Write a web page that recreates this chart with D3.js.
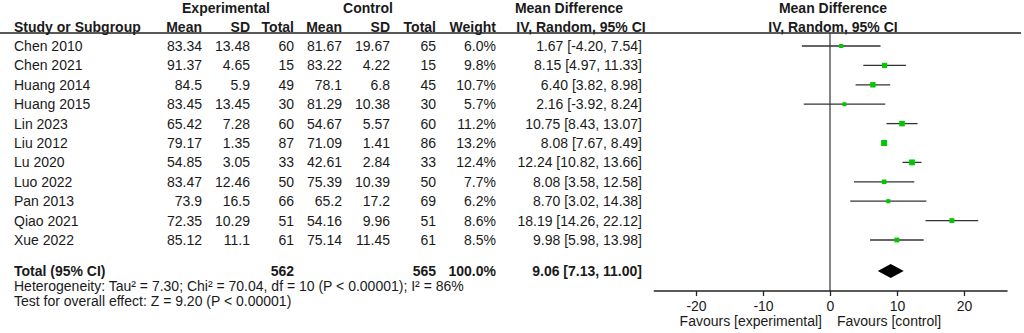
<!DOCTYPE html>
<html>
<head>
<meta charset="utf-8">
<script src="https://cdn.jsdelivr.net/npm/d3@7"></script>
<style>
  body { margin: 0; background: #fff; }
  svg text { font-family: "Liberation Sans", Arial, sans-serif; font-size: 14px; fill: #1a1a1a; }
  .bold { font-weight: bold; }
</style>
</head>
<body>
<div id="chart"></div>
<script>
// Data
const studies = ["Chen 2010", "Chen 2021", "Huang 2014", "Huang 2015", "Lin 2023", "Liu 2012",
  "Lu 2020", "Luo 2022", "Pan 2013", "Qiao 2021", "Xue 2022"];
const expMean = [83.34, 91.37, 84.5, 83.45, 65.42, 79.17, 54.85, 83.47, 73.9, 72.35, 85.12];
const expSD = [13.48, 4.65, 5.9, 13.45, 7.28, 1.35, 3.05, 12.46, 16.5, 10.29, 11.1];
const expTotal = [60, 15, 49, 30, 60, 87, 33, 50, 66, 51, 61];
const ctlMean = [81.67, 83.22, 78.1, 81.29, 54.67, 71.09, 42.61, 75.39, 65.2, 54.16, 75.14];
const ctlSD = [19.67, 4.22, 6.8, 10.38, 5.57, 1.41, 2.84, 10.39, 17.2, 9.96, 11.45];
const ctlTotal = [65, 15, 45, 30, 60, 86, 33, 50, 69, 51, 61];
const weights = [6.0, 9.8, 10.7, 5.7, 11.2, 13.2, 12.4, 7.7, 6.2, 8.6, 8.5];
const md = [1.67, 8.15, 6.40, 2.16, 10.75, 8.08, 12.24, 8.08, 8.70, 18.19, 9.98];
const ciLow = [-4.20, 4.97, 3.82, -3.92, 8.43, 7.67, 10.82, 3.58, 3.02, 14.26, 5.98];
const ciHigh = [7.54, 11.33, 8.98, 8.24, 13.07, 8.49, 13.66, 12.58, 14.38, 22.12, 13.98];
const total = { exp: 562, ctl: 565, weight: 100.0, md: 9.06, lo: 7.13, hi: 11.00 };
const axisTicks = [-20, -10, 0, 10, 20];
const footnotes = [
  "Heterogeneity: Tau\u00B2 = 7.30; Chi\u00B2 = 70.04, df = 10 (P < 0.00001); I\u00B2 = 86%",
  "Test for overall effect: Z = 9.20 (P < 0.00001)"
];

const width = 1024, height = 333;

const svg = d3.select("#chart")
  .append("svg")
  .attr("width", width)
  .attr("height", height);

// scales
const x = d3.scaleLinear().domain([-20, 20]).range([696, 964]);
const y = d3.scaleLinear().domain([0, studies.length - 1]).range([46, 240]);
const markerSize = d3.scaleSqrt().domain([0, d3.max(weights)]).range([0, 6]);

const totalY = 271;
const axisY = 291;

// column right edges for the table
const cols = [
  { x: 202, head: "Mean", get: i => expMean[i] },
  { x: 250, head: "SD", get: i => expSD[i] },
  { x: 294, head: "Total", get: i => expTotal[i] },
  { x: 342, head: "Mean", get: i => ctlMean[i] },
  { x: 390, head: "SD", get: i => ctlSD[i] },
  { x: 436, head: "Total", get: i => ctlTotal[i] },
  { x: 496, head: "Weight", get: i => weights[i].toFixed(1) + "%" },
  { x: 642, head: null, get: i => `${md[i].toFixed(2)} [${ciLow[i].toFixed(2)}, ${ciHigh[i].toFixed(2)}]` }
];

// headers
const head1 = [
  { t: "Experimental", x: 226 },
  { t: "Control", x: 368 },
  { t: "Mean Difference", x: 569 },
  { t: "Mean Difference", x: 833 }
];
svg.selectAll(".h1").data(head1).enter().append("text")
  .attr("class", "bold").attr("x", d => d.x).attr("y", 8).attr("dy", "0.35em")
  .attr("text-anchor", "middle").text(d => d.t);

svg.append("text").attr("class", "bold").attr("x", 14).attr("y", 27).attr("dy", "0.35em")
  .text("Study or Subgroup");
svg.selectAll(".h2").data(cols.filter(c => c.head)).enter().append("text")
  .attr("class", "bold").attr("x", d => d.x).attr("y", 27).attr("dy", "0.35em")
  .attr("text-anchor", "end").text(d => d.head);
svg.append("text").attr("class", "bold").attr("x", 581).attr("y", 27).attr("dy", "0.35em")
  .attr("text-anchor", "middle").text("IV, Random, 95% CI");
svg.append("text").attr("class", "bold").attr("x", 833).attr("y", 27).attr("dy", "0.35em")
  .attr("text-anchor", "middle").text("IV, Random, 95% CI");

svg.append("line").attr("x1", 0).attr("x2", 1021).attr("y1", 33).attr("y2", 33)
  .attr("stroke", "#222").attr("stroke-width", 1.5);

// study rows
studies.forEach((s, i) => {
  svg.append("text").attr("x", 14).attr("y", y(i)).attr("dy", "0.35em").text(s);
  cols.forEach(c => {
    svg.append("text").attr("x", c.x).attr("y", y(i)).attr("dy", "0.35em")
      .attr("text-anchor", "end").text(c.get(i));
  });
});

// total row
svg.append("text").attr("class", "bold").attr("x", 14).attr("y", totalY).attr("dy", "0.35em").text("Total (95% CI)");
[
  { x: 294, t: total.exp },
  { x: 436, t: total.ctl },
  { x: 496, t: total.weight.toFixed(1) + "%" },
  { x: 642, t: `${total.md.toFixed(2)} [${total.lo.toFixed(2)}, ${total.hi.toFixed(2)}]` }
].forEach(d => {
  svg.append("text").attr("class", "bold").attr("x", d.x).attr("y", totalY).attr("dy", "0.35em")
    .attr("text-anchor", "end").text(d.t);
});

// footnotes
footnotes.forEach((t, i) => {
  svg.append("text").attr("x", 14).attr("y", 286 + i * 15).attr("dy", "0.35em").text(t);
});

// zero line
svg.append("line").attr("x1", x(0)).attr("x2", x(0)).attr("y1", 33).attr("y2", axisY)
  .attr("stroke", "#444").attr("stroke-width", 1.3);

// CI lines
svg.selectAll(".ci").data(studies).enter().append("line")
  .attr("x1", (d, i) => x(ciLow[i])).attr("x2", (d, i) => x(ciHigh[i]))
  .attr("y1", (d, i) => y(i)).attr("y2", (d, i) => y(i))
  .attr("stroke", "#333").attr("stroke-width", 1.3);

// squares
svg.selectAll(".sq").data(studies).enter().append("rect")
  .attr("x", (d, i) => x(md[i]) - markerSize(weights[i]) / 2)
  .attr("y", (d, i) => y(i) - markerSize(weights[i]) / 2)
  .attr("width", (d, i) => markerSize(weights[i]))
  .attr("height", (d, i) => markerSize(weights[i]))
  .attr("fill", "#00c800");

// diamond
svg.append("path")
  .attr("d", `M${x(total.lo)},${totalY} L${x(total.md)},${totalY - 7} L${x(total.hi)},${totalY} L${x(total.md)},${totalY + 7} Z`)
  .attr("fill", "#000");

// axis
const axisG = svg.append("g").attr("transform", `translate(0,${axisY})`)
  .call(d3.axisBottom(x).tickValues(axisTicks).tickFormat(d => String(d)).tickSize(5).tickPadding(5));
axisG.select(".domain").remove();
axisG.append("line").attr("x1", x(-26.3)).attr("x2", x(26.5))
  .attr("stroke", "#222").attr("stroke-width", 1.3);
axisG.selectAll(".tick line").attr("stroke", "#222").attr("stroke-width", 1.3);
axisG.selectAll(".tick text").style("font-size", "14px").style("font-family", "Liberation Sans, Arial, sans-serif").attr("fill", "#1a1a1a");

svg.append("text").attr("x", 822).attr("y", 321).attr("dy", "0.35em").attr("text-anchor", "end")
  .text("Favours [experimental]");
svg.append("text").attr("x", 837).attr("y", 321).attr("dy", "0.35em")
  .text("Favours [control]");
</script>
</body>
</html>
